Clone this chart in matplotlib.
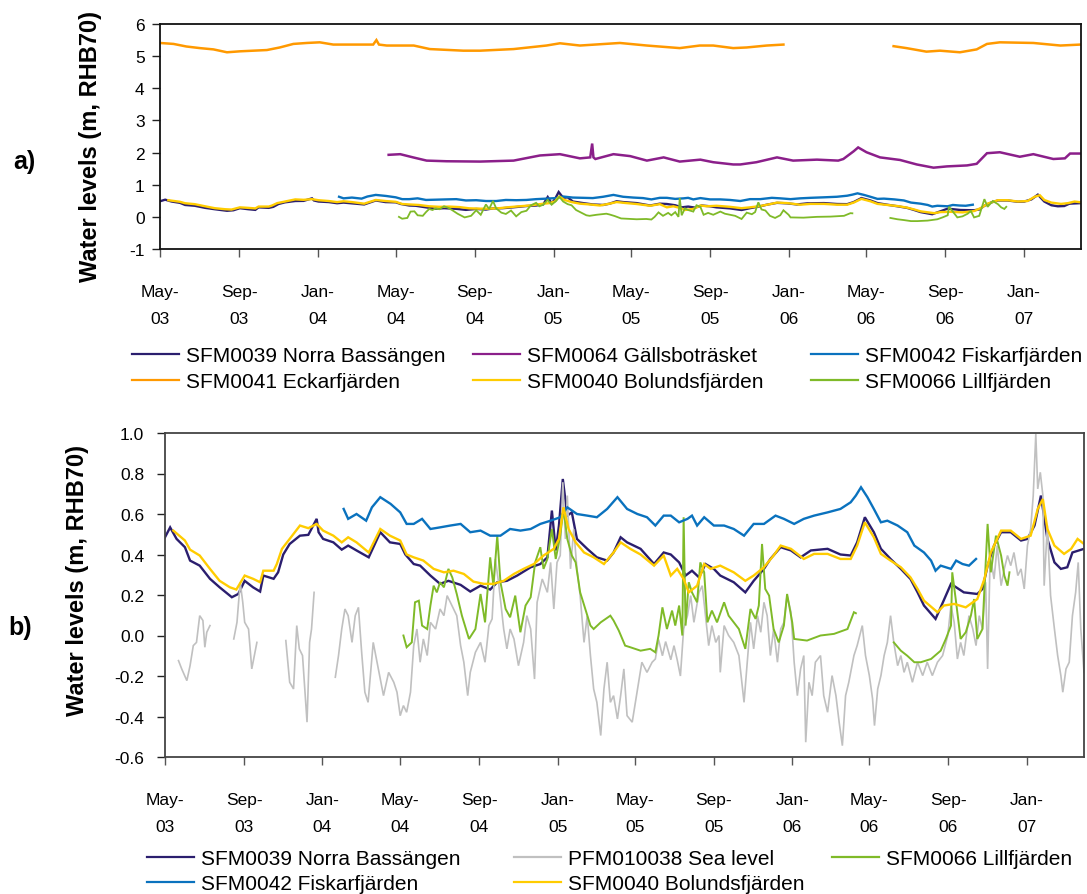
import numpy as np
import matplotlib
matplotlib.use("Agg")
import matplotlib.pyplot as plt
import matplotlib.dates as mdates
from matplotlib.lines import Line2D

plt.rcParams["font.family"] = ["Liberation Sans", "DejaVu Sans"]
plt.rcParams["axes.unicode_minus"] = False

NAN = float("nan")

# ---------------------------------------------------------------------------
# Water levels (m, RHB70).  x values are days counted from 1 May 2003;
# a NaN value breaks the line (logger gap).
# ---------------------------------------------------------------------------
norra_day = [0, 8, 18, 31, 39, 54, 70, 85, 104, 114, 124, 137, 148, 153, 169, 176, 184, 194, 210, 223,
             236, 239, 246, 262, 275, 285, 298, 317, 335, 350, 366, 374, 387, 397, 413, 428, 441, 460, 475, 491,
             506, 517, 532, 548, 569, 584, 595, 602, 608, 613, 619, 626, 633, 641, 657, 672, 688, 698, 709, 719,
             740, 761, 776, 787, 800, 810, 820, 831, 841, 854, 864, 885, 903, 916, 932, 942, 958, 974, 989, 1005,
             1031, 1051, 1067, 1077, 1089, 1103, 1114, 1129, 1145, 1160, 1171, 1181, 1199, 1207, 1223, 1243, 1264, 1272, 1280, 1290,
             1301, 1316, 1332, 1342, 1353, 1363, 1373, 1384, 1394, 1404, 1412, 1430]
norra_val = [0.485, 0.534, 0.477, 0.436, 0.37, 0.345, 0.28, 0.238, 0.189, 0.205, 0.27, 0.238, 0.217, 0.296, 0.28, 0.312, 0.40, 0.452, 0.493, 0.497,
             0.576, 0.51, 0.477, 0.46, 0.424, 0.444, 0.42, 0.386, 0.51, 0.46, 0.452, 0.40, 0.353, 0.345, 0.296, 0.255, 0.27, 0.25, 0.217, 0.246,
             0.227, 0.263, 0.27, 0.296, 0.337, 0.353, 0.386, 0.617, 0.42, 0.543, 0.773, 0.592, 0.608, 0.477, 0.428, 0.386, 0.37, 0.41, 0.485, 0.46,
             0.428, 0.353, 0.41, 0.40, 0.361, 0.296, 0.32, 0.287, 0.353, 0.329, 0.296, 0.263, 0.213, 0.27, 0.329, 0.378, 0.436, 0.42, 0.386, 0.42,
             0.428, 0.40, 0.395, 0.46, 0.584, 0.51, 0.428, 0.378, 0.329, 0.279, 0.213, 0.148, 0.082, 0.139, 0.255, 0.213, 0.205, 0.23, 0.345, 0.444,
             0.51, 0.51, 0.469, 0.477, 0.543, 0.691, 0.477, 0.361, 0.329, 0.337, 0.41, 0.428]

bolund_day = [13, 31, 39, 54, 70, 85, 101, 111, 124, 137, 148, 153, 169, 174, 182, 194, 210, 223, 236, 246,
              262, 275, 285, 298, 317, 335, 350, 366, 376, 387, 402, 418, 434, 449, 465, 480, 496, 511, 527, 543,
              558, 574, 589, 605, 613, 620, 628, 639, 652, 667, 683, 698, 709, 724, 740, 761, 776, 787, 797, 807,
              815, 828, 839, 849, 864, 885, 903, 916, 932, 947, 958, 974, 994, 1010, 1031, 1051, 1067, 1077, 1089, 1103,
              1114, 1129, 1145, 1160, 1171, 1181, 1202, 1212, 1228, 1246, 1264, 1275, 1285, 1301, 1316, 1332, 1347, 1358, 1366, 1373,
              1384, 1399, 1410, 1420, 1430]
bolund_val = [0.518, 0.469, 0.424, 0.395, 0.329, 0.27, 0.238, 0.227, 0.296, 0.28, 0.263, 0.32, 0.32, 0.353, 0.428, 0.477, 0.543, 0.53, 0.551, 0.518,
              0.493, 0.46, 0.485, 0.46, 0.41, 0.526, 0.493, 0.469, 0.40, 0.386, 0.37, 0.329, 0.312, 0.32, 0.304, 0.266, 0.255, 0.255, 0.27, 0.304,
              0.329, 0.353, 0.395, 0.428, 0.477, 0.633, 0.526, 0.46, 0.41, 0.386, 0.353, 0.41, 0.46, 0.428, 0.40, 0.345, 0.395, 0.296, 0.329, 0.279,
              0.213, 0.246, 0.353, 0.329, 0.345, 0.312, 0.27, 0.296, 0.337, 0.395, 0.444, 0.428, 0.378, 0.403, 0.403, 0.378, 0.378, 0.444, 0.559, 0.485,
              0.403, 0.37, 0.337, 0.287, 0.23, 0.172, 0.115, 0.148, 0.156, 0.139, 0.18, 0.279, 0.41, 0.518, 0.518, 0.477, 0.493, 0.625, 0.674, 0.526,
              0.444, 0.403, 0.428, 0.477, 0.452]

fiskar_day = [278, 285, 298, 313, 322, 335, 351, 366, 376, 387, 400, 413, 428, 444, 460, 475, 491, 506, 522, 537,
              553, 569, 584, 600, 615, 626, 641, 657, 672, 688, 704, 719, 735, 750, 763, 776, 787, 800, 813, 820,
              828, 839, 854, 870, 885, 901, 916, 932, 950, 963, 979, 994, 1010, 1031, 1051, 1067, 1075, 1083, 1093, 1103,
              1114, 1124, 1140, 1155, 1166, 1181, 1192, 1199, 1207, 1223, 1231, 1241, 1251, 1262]
fiskar_val = [0.625, 0.576, 0.60, 0.567, 0.633, 0.683, 0.65, 0.608, 0.551, 0.551, 0.576, 0.526, 0.534, 0.543, 0.551, 0.51, 0.518, 0.493, 0.493, 0.526,
              0.518, 0.526, 0.551, 0.567, 0.584, 0.633, 0.60, 0.592, 0.584, 0.625, 0.683, 0.625, 0.60, 0.584, 0.543, 0.592, 0.592, 0.559, 0.576, 0.592,
              0.543, 0.584, 0.543, 0.543, 0.526, 0.493, 0.551, 0.551, 0.592, 0.576, 0.551, 0.576, 0.592, 0.608, 0.625, 0.658, 0.691, 0.732, 0.683, 0.625,
              0.559, 0.567, 0.543, 0.51, 0.444, 0.41, 0.37, 0.32, 0.345, 0.329, 0.37, 0.353, 0.345, 0.378]

lill_day = [371, 376, 384, 389, 395, 400, 408, 413, 418, 423, 428, 434, 441, 447, 454, 462, 473, 483, 491, 498,
            506, 511, 517, 522, 530, 537, 545, 553, 561, 569, 576, 584, 589, 595, 602, 608, 615, 620, 626, 633,
            639, 646, 654, 662, 667, 678, 693, 698, 706, 716, 724, 740, 755, 763, 768, 774, 781, 789, 794, 800,
            805, 807, 810, 815, 820, 828, 833, 839, 844, 851, 859, 870, 877, 885, 893, 903, 911, 919, 924, 929,
            934, 940, 947, 955, 963, 968, 976, 979, 999, 1020, 1041, 1062, 1072, 1075, 1100, 1134, 1145, 1155, 1166, 1176,
            1192, 1207, 1215, 1223, 1225, 1231, 1238, 1246, 1254, 1259, 1264, 1272, 1280, 1285, 1293, 1301, 1306, 1311, 1314]
lill_val = [0.0, -0.058, -0.034, 0.164, 0.172, 0.049, 0.032, 0.148, 0.246, 0.213, 0.263, 0.238, 0.329, 0.287, 0.205, 0.098, -0.017, 0.032, 0.205, 0.065,
            0.386, 0.246, 0.493, 0.263, 0.131, 0.09, 0.197, 0.016, 0.148, 0.189, 0.361, 0.436, 0.329, 0.378, 0.526, 0.378, 0.493, 0.625, 0.477, 0.395,
            0.361, 0.213, 0.131, 0.049, 0.032, 0.065, 0.098, 0.074, 0.025, -0.05, -0.058, -0.075, -0.066, -0.083, 0.0, 0.139, 0.032, 0.123, 0.049, 0.148,
            0.0, 0.584, 0.049, 0.263, 0.213, 0.164, 0.361, 0.312, 0.065, 0.123, 0.065, 0.164, 0.098, 0.065, 0.032, -0.066, 0.131, 0.082, 0.148, 0.452,
            0.23, 0.197, 0.032, -0.034, 0.049, 0.205, 0.065, -0.017, -0.025, 0.0, 0.008, 0.032, 0.115, 0.11, NAN, -0.034, -0.075, -0.1, -0.132, -0.132,
            -0.116, -0.075, -0.017, 0.049, 0.312, 0.164, -0.017, 0.016, 0.098, 0.18, -0.017, 0.032, 0.551, 0.312, 0.493, 0.395, 0.296, 0.246, 0.312]

sea_day = [21, 26, 34, 39, 44, 49, 54, 59, 62, 65, 70, 90,
           107, 112, 117, 121, 124, 130, 135, 139, 143, 165,
           188, 194, 200, 205, 209, 214, 221, 225, 228, 232, 250,
           265, 270, 275, 280, 285, 291, 296, 301, 306, 311, 316, 324, 332, 340, 348,
           356, 361, 366, 371, 376, 382, 387, 392, 397, 402, 408, 413, 421, 428, 434, 439, 444, 449, 454, 460,
           465, 471, 475, 483, 491, 498, 504, 509, 514, 519, 527, 532, 537, 543, 550, 558, 563, 569, 575, 579,
           587, 595, 600, 605, 610, 615, 619, 623, 626, 631, 636, 641, 646, 652, 657, 662, 667, 672, 678, 683,
           688, 693, 698, 704, 709, 714, 719, 727, 732, 737, 742, 750, 758, 763, 768, 774, 779, 787, 792, 797,
           802, 807, 813, 818, 823, 831, 836, 841, 846, 851, 857, 862, 864, 870, 877, 885, 893, 901, 906, 911,
           916, 922, 927, 932, 937, 942, 947, 953, 958, 963, 968, 974, 979, 984, 989, 994, 997, 1002, 1007, 1012,
           1020, 1025, 1031, 1038, 1044, 1049, 1054, 1059, 1064, 1072, 1077, 1085, 1090, 1096, 1101, 1104, 1109, 1114, 1119, 1124,
           1129, 1134, 1140, 1145, 1150, 1155, 1163, 1171, 1179, 1186, 1194, 1202, 1210, 1218, 1223, 1228, 1233, 1238, 1243, 1251,
           1257, 1262, 1267, 1272, 1277, 1280, 1284, 1290, 1295, 1301, 1306, 1311, 1316, 1321, 1327, 1332, 1337, 1342, 1347, 1351,
           1355, 1358, 1362, 1366, 1368, 1373, 1378, 1384, 1389, 1394, 1397, 1402, 1407, 1412, 1417, 1421, 1425, 1430]
sea_val = [-0.124, -0.165, -0.223, -0.149, -0.05, -0.034, 0.098, 0.074, -0.058, 0.016, 0.049, NAN,
           -0.017, 0.065, 0.263, 0.164, 0.065, 0.032, -0.165, -0.099, -0.034, NAN,
           -0.025, -0.231, -0.264, 0.049, -0.066, -0.099, -0.428, -0.034, 0.032, 0.213, NAN,
           -0.206, -0.099, 0.032, 0.131, 0.098, -0.034, 0.098, 0.139, -0.083, -0.28, -0.33, -0.034, -0.165, -0.297, -0.182,
           -0.231, -0.28, -0.396, -0.346, -0.379, -0.28, -0.05, 0.032, -0.132, -0.017, -0.099, 0.065, 0.032, 0.131, 0.098, 0.197, 0.164, 0.131, 0.098, -0.05,
           -0.132, -0.297, -0.182, -0.083, -0.034, -0.132, 0.049, 0.082, 0.378, 0.263, 0.032, -0.066, 0.032, -0.017, -0.149, -0.034, 0.098, 0.032, -0.215, 0.164,
           0.279, 0.213, 0.361, 0.131, 0.361, 0.395, 0.757, 0.477, 0.691, 0.329, 0.526, 0.329, 0.197, -0.034, 0.098, -0.099, -0.264, -0.33, -0.494, -0.264,
           -0.132, -0.33, -0.297, -0.412, -0.297, -0.165, -0.396, -0.428, -0.33, -0.231, -0.132, -0.182, -0.132, -0.116, -0.02, -0.10, -0.03, -0.12, -0.05, -0.12,
           -0.20, 0.032, 0.098, 0.197, 0.065, 0.213, 0.246, 0.098, -0.05, 0.049, -0.034, 0.0, -0.182, 0.049, 0.0, -0.034, -0.099, -0.33, -0.132, 0.065,
           -0.066, 0.098, 0.016, 0.164, 0.098, -0.099, 0.032, -0.132, 0.032, 0.065, 0.197, 0.115, -0.132, -0.297, -0.165, -0.099, -0.527, -0.231, -0.297, -0.132,
           -0.099, -0.297, -0.379, -0.198, -0.297, -0.428, -0.544, -0.297, -0.231, -0.099, -0.05, 0.049, -0.099, -0.198, -0.313, -0.445, -0.264, -0.198, -0.099, -0.034,
           0.098, -0.034, -0.149, -0.099, -0.182, -0.132, -0.231, -0.132, -0.198, -0.132, -0.198, -0.132, -0.099, 0.0, 0.148, 0.065, -0.116, -0.034, -0.099, 0.098,
           0.032, -0.05, 0.098, 0.032, 0.263, -0.165, 0.395, 0.279, 0.444, 0.246, 0.329, 0.395, 0.345, 0.41, 0.296, 0.329, 0.23, 0.444, 0.526, 0.691,
           0.995, 0.724, 0.806, 0.691, 0.246, 0.543, 0.197, 0.032, -0.099, -0.198, -0.28, -0.165, -0.132, 0.098, 0.213, 0.361, 0.032, -0.182]

eckar_day = [0, 21, 41, 62, 83, 104, 124, 145, 166, 186, 207, 228, 248, 269, 311, 331, 336, 340, 352, 394,
             419, 471, 497, 549, 600, 621, 652, 714, 756, 807, 838, 859, 890, 911, 942, 968, 1050, 1139, 1159, 1190,
             1211, 1242, 1268, 1284, 1304, 1356, 1398, 1429]
eckar_val = [5.41, 5.38, 5.30, 5.25, 5.21, 5.12, 5.15, 5.17, 5.19, 5.27, 5.38, 5.41, 5.43, 5.36, 5.36, 5.36, 5.50, 5.36, 5.33, 5.33,
             5.22, 5.17, 5.17, 5.22, 5.33, 5.40, 5.33, 5.41, 5.33, 5.25, 5.33, 5.33, 5.25, 5.27, 5.33, 5.36, NAN, 5.31, 5.25, 5.14,
             5.17, 5.12, 5.21, 5.38, 5.43, 5.41, 5.33, 5.36]

galls_day = [355, 373, 393, 414, 445, 497, 549, 590, 621, 652, 668, 671, 673, 676, 704, 730, 756, 782, 807, 839,
             859, 890, 901, 926, 958, 983, 1020, 1053, 1061, 1077, 1084, 1097, 1118, 1149, 1175, 1201, 1222, 1253, 1268, 1284,
             1304, 1335, 1356, 1387, 1405, 1413, 1429]
galls_val = [1.93, 1.95, 1.85, 1.75, 1.73, 1.72, 1.75, 1.91, 1.95, 1.82, 1.85, 2.28, 1.85, 1.80, 1.95, 1.89, 1.75, 1.85, 1.72, 1.78,
             1.70, 1.63, 1.63, 1.70, 1.85, 1.75, 1.78, 1.75, 1.80, 2.04, 2.16, 2.01, 1.85, 1.77, 1.63, 1.53, 1.57, 1.60, 1.65, 1.98,
             2.01, 1.87, 1.95, 1.80, 1.82, 1.97, 1.97]

LABELS = {
    "norra": "SFM0039 Norra Bassängen",
    "galls": "SFM0064 Gällsboträsket",
    "fiskar": "SFM0042 Fiskarfjärden",
    "eckar": "SFM0041 Eckarfjärden",
    "bolund": "SFM0040 Bolundsfjärden",
    "lill": "SFM0066 Lillfjärden",
    "sea": "PFM010038 Sea level",
}
COLORS = {
    "norra": "#2B1E6E",
    "galls": "#8B1F8A",
    "fiskar": "#0A72BE",
    "eckar": "#FF9900",
    "bolund": "#FFCC00",
    "lill": "#7FBA28",
    "sea": "#C0C0C0",
}
SERIES = {
    "norra": (norra_day, norra_val),
    "galls": (galls_day, galls_val),
    "fiskar": (fiskar_day, fiskar_val),
    "eckar": (eckar_day, eckar_val),
    "bolund": (bolund_day, bolund_val),
    "lill": (lill_day, lill_val),
    "sea": (sea_day, sea_val),
}

T0 = mdates.date2num(np.datetime64("2003-05-01"))
T1 = T0 + 1430
TICK_DATES = np.arange("2003-05", "2007-02", 4, dtype="datetime64[M]")
TICK_POS = [mdates.date2num(d.astype("datetime64[D]")) for d in TICK_DATES]
TICK_LABELS = [d.astype(object).strftime("%b-\n%y") for d in TICK_DATES]

W, H = 1087, 895
fig = plt.figure(figsize=(W / 100, H / 100), dpi=100)


def frac_box(left, top, right, bottom):
    return [left / W, 1 - bottom / H, (right - left) / W, (bottom - top) / H]


def draw(ax, keys, lw):
    for k in keys:
        d, v = SERIES[k]
        ax.plot(T0 + np.asarray(d, float), np.asarray(v, float), color=COLORS[k],
                lw=lw.get(k, 1.7), solid_joinstyle="miter")


def style(ax, ylim, yticks, yfmt, ypad, spine_col):
    ax.set_xlim(T0, T1)
    ax.set_ylim(*ylim)
    ax.set_yticks(yticks)
    ax.set_yticklabels([yfmt.format(t) for t in yticks], fontsize=12.5)
    ax.set_xticks(TICK_POS)
    ax.set_xticklabels(TICK_LABELS, fontsize=12.5, linespacing=2.0, ha="center")
    ax.tick_params(axis="x", direction="out", length=6, width=1.0, pad=19, color="#555555")
    ax.tick_params(axis="y", direction="out", length=6, width=1.0, pad=ypad, color="#222222")
    for s in ax.spines.values():
        s.set_linewidth(1.3)
        s.set_color(spine_col)


def legend_row(entries, y_px):
    # entries: list of (x of handle start in px, key)
    for x0, k in entries:
        fig.add_artist(Line2D([x0 / W, (x0 + 47) / W], [1 - y_px / H] * 2,
                              transform=fig.transFigure, color=COLORS[k], lw=1.6))
        fig.text((x0 + 54) / W, 1 - y_px / H, LABELS[k], fontsize=15,
                 ha="left", va="center_baseline")


# ---- panel a ----
ax_a = fig.add_axes(frac_box(160, 25, 1081, 250))
draw(ax_a, ["norra", "galls", "fiskar", "eckar", "bolund", "lill"],
     {"lill": 1.3, "eckar": 1.8, "galls": 1.8})
style(ax_a, (-1, 6), list(range(-1, 7)), "{:d}", 5, "#111111")
fig.text(91 / W, 1 - 147 / H, "Water levels (m, RHB70)", rotation=90,
         fontsize=17, fontweight="bold", ha="center", va="center")
fig.text(24 / W, 1 - 162 / H, "a)", fontsize=18, fontweight="bold",
         ha="center", va="center")
legend_row([(132, "norra"), (473, "galls"), (811, "fiskar")], 355)
legend_row([(132, "eckar"), (473, "bolund"), (811, "lill")], 381)

# ---- panel b ----
ax_b = fig.add_axes(frac_box(165, 434, 1084, 758))
draw(ax_b, ["norra", "sea", "lill", "fiskar", "bolund"],
     {"sea": 1.2, "lill": 1.4})
yt = [round(-0.6 + 0.2 * i, 1) for i in range(9)]
style(ax_b, (-0.6, 1.0), yt, "{:.1f}", 9, "#444444")
fig.text(78 / W, 1 - 581 / H, "Water levels (m, RHB70)", rotation=90,
         fontsize=17, fontweight="bold", ha="center", va="center")
fig.text(20 / W, 1 - 628 / H, "b)", fontsize=18, fontweight="bold",
         ha="center", va="center")
legend_row([(147, "norra"), (514, "sea"), (832, "lill")], 858)
legend_row([(147, "fiskar"), (514, "bolund")], 883)

fig.savefig("out.png", dpi=100)
